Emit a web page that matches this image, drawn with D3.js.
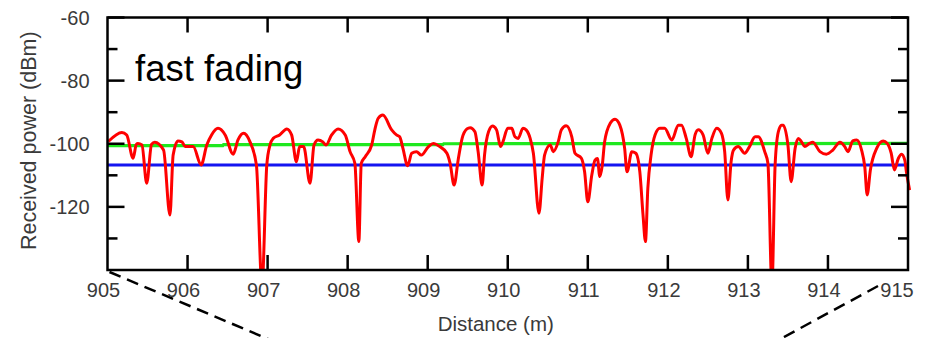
<!DOCTYPE html>
<html>
<head>
<meta charset="utf-8">
<script src="https://cdn.jsdelivr.net/npm/d3@7"></script>
<style>
  body { margin: 0; background: #fff; }
  text { font-family: "Liberation Sans", Arial, sans-serif; }
</style>
</head>
<body>
<div id="chart"></div>
<script>
// received power trace
const distance = [
  905.01, 905.18, 905.24, 905.32, 905.36, 905.38, 905.43, 905.49, 905.55, 905.59,
  905.70, 905.78, 905.82, 905.88, 905.93, 905.97, 906.07, 906.17, 906.24, 906.30,
  906.38, 906.47, 906.57, 906.63, 906.70, 906.78, 906.86, 906.93, 906.99, 907.03,
  907.07, 907.15, 907.24, 907.30, 907.36, 907.40, 907.45, 907.53, 907.58, 907.63,
  907.69, 907.73, 907.80, 907.88, 907.97, 908.03, 908.09, 908.14, 908.17, 908.22,
  908.30, 908.34, 908.38, 908.44, 908.55, 908.61, 908.65, 908.69, 908.75, 908.80,
  908.86, 908.92, 909.01, 909.07, 909.15, 909.24, 909.28, 909.33, 909.38, 909.43,
  909.49, 909.53, 909.59, 909.63, 909.68, 909.71, 909.76, 909.81, 909.86, 909.91,
  909.94, 910.00, 910.05, 910.09, 910.13, 910.19, 910.23, 910.28, 910.32, 910.39,
  910.43, 910.46, 910.53, 910.57, 910.63, 910.67, 910.73, 910.80, 910.84, 910.92,
  910.96, 911.00, 911.05, 911.09, 911.12, 911.15, 911.18, 911.21, 911.28, 911.34,
  911.40, 911.46, 911.49, 911.55, 911.60, 911.65, 911.69, 911.72, 911.75, 911.79,
  911.84, 911.90, 911.96, 912.05, 912.13, 912.17, 912.23, 912.29, 912.34, 912.38,
  912.44, 912.50, 912.55, 912.61, 912.67, 912.71, 912.75, 912.79, 912.82, 912.88,
  912.96, 913.02, 913.09, 913.13, 913.21, 913.25, 913.30, 913.34, 913.38, 913.42,
  913.44, 913.50, 913.54, 913.59, 913.63, 913.67, 913.71, 913.77, 913.81, 913.90,
  913.98, 914.06, 914.15, 914.21, 914.25, 914.31, 914.36, 914.42, 914.46, 914.49,
  914.53, 914.61, 914.69, 914.74, 914.79, 914.83, 914.88, 914.92, 914.96, 914.98,
  915.02
];
const power = [
  -99.3, -96.4, -97.2, -104.6, -100.2, -99.9, -100.4, -112.5, -100.2, -99.5,
  -102.0, -122.6, -103.6, -99.1, -99.4, -100.9, -100.9, -106.7, -100.4, -97.2,
  -95.1, -97.2, -103.3, -98.8, -96.7, -99.4, -106.7, -145, -106.7, -100.4,
  -98.3, -97.2, -95.3, -97.2, -105.7, -100.9, -100.9, -112.5, -100.4, -98.8,
  -99.4, -100.4, -97.2, -95.3, -97.2, -102.5, -106.2, -131.0, -106.2, -104.1,
  -100.4, -95.5, -92.0, -90.9, -95.6, -97.2, -97.8, -101.4, -107.0, -103.0,
  -102.5, -103.6, -100.9, -99.9, -100.9, -103.0, -106.2, -113.1, -105.2, -98.3,
  -95.3, -94.9, -96.2, -102.5, -113.1, -103.6, -96.2, -94.4, -95.6, -100.9,
  -99.4, -95.1, -95.1, -97.8, -98.3, -95.1, -95.6, -98.3, -103.0, -122.0,
  -111.0, -103.6, -100.4, -102.5, -99.4, -95.6, -94.3, -97.8, -103.0, -104.6,
  -108.9, -118.4, -109.9, -105.2, -104.7, -110.4, -107.0, -99.4, -93.5, -92.2,
  -94.1, -101.4, -108.9, -102.5, -103.0, -108.9, -122.6, -131.0, -114.1, -103.6,
  -97.2, -95.1, -95.1, -98.8, -94.1, -94.1, -98.3, -104.1, -97.2, -95.6,
  -97.2, -103.0, -98.3, -95.1, -96.7, -102.5, -117.8, -105.7, -102.0, -100.9,
  -103.0, -100.9, -97.8, -97.8, -102.5, -106.2, -145, -106.7, -96.2, -94.1,
  -94.1, -100.4, -112.0, -101.4, -98.3, -99.4, -100.9, -99.9, -99.5, -102.5,
  -103.3, -102.0, -99.5, -100.9, -102.5, -99.1, -98.8, -102.0, -107.3, -116.2,
  -108.3, -101.4, -99.1, -99.9, -103.0, -108.3, -104.6, -103.3, -105.2, -108.9,
  -114.7
];
// local mean (green) and path loss level (blue)
const meanDist = [905, 906.44, 906.45, 909.19, 909.2, 915];
const meanPower = [-100.6, -100.6, -100.3, -100.3, -100.0, -99.9];
const lossDist = [905, 915];
const lossPower = [-106.7, -106.7];

const xTicks = d3.range(905, 916);
const yMajor = [-60, -80, -100, -120];
const yMinor = [-70, -90, -110, -130];

const width = 928, height = 338;
const margin = { top: 17.5, right: 20, bottom: 68, left: 107.5 };

const svg = d3.select("#chart").append("svg")
  .attr("width", width)
  .attr("height", height);

const x = d3.scaleLinear().domain([905, 915]).range([margin.left, width - margin.right]);
const y = d3.scaleLinear().domain([-140, -60]).range([height - margin.bottom, margin.top]);

svg.append("defs").append("clipPath").attr("id", "plot")
  .append("rect")
  .attr("x", margin.left)
  .attr("y", margin.top)
  .attr("width", width - margin.right - margin.left + 4)
  .attr("height", y(-140) - margin.top);

// zoom-out dashed guides below the plot
svg.append("g")
  .attr("stroke", "#000")
  .attr("stroke-width", 2.5)
  .attr("stroke-dasharray", "12,7")
  .selectAll("line")
  .data([[x(905) + 2, y(-140) + 2, x(905) + 170, height + 5], [x(915) - 30, y(-140) + 16, x(915) - 135, height + 5]])
  .join("line")
  .attr("x1", d => d[0]).attr("y1", d => d[1])
  .attr("x2", d => d[2]).attr("y2", d => d[3]);

const lines = svg.append("g").attr("clip-path", "url(#plot)").attr("fill", "none");

lines.append("path")
  .datum(d3.zip(meanDist, meanPower))
  .attr("stroke", "#1fe81f")
  .attr("stroke-width", 3.2)
  .attr("d", d3.line().x(d => x(d[0])).y(d => y(d[1])));

lines.append("path")
  .datum(d3.zip(lossDist, lossPower))
  .attr("stroke", "#1515f0")
  .attr("stroke-width", 3)
  .attr("d", d3.line().x(d => x(d[0])).y(d => y(d[1])));

lines.append("path")
  .datum(d3.zip(distance, power))
  .attr("stroke", "#ff0000")
  .attr("stroke-width", 3)
  .attr("stroke-linejoin", "round")
  .attr("d", d3.line().curve(d3.curveMonotoneX).x(d => x(d[0])).y(d => y(d[1])));

// frame
svg.append("rect")
  .attr("x", margin.left).attr("y", margin.top)
  .attr("width", width - margin.right - margin.left)
  .attr("height", y(-140) - margin.top)
  .attr("fill", "none")
  .attr("stroke", "#000")
  .attr("stroke-width", 2.5);

// inward ticks on all four sides
const tick = svg.append("g").attr("stroke", "#000").attr("stroke-width", 2.5);
xTicks.slice(1, -1).forEach(v => {
  tick.append("line").attr("x1", x(v)).attr("x2", x(v)).attr("y1", y(-140)).attr("y2", y(-140) - 15);
  tick.append("line").attr("x1", x(v)).attr("x2", x(v)).attr("y1", y(-60)).attr("y2", y(-60) + 15);
});
yMajor.concat(yMinor).forEach(v => {
  const len = yMajor.includes(v) ? 17 : 10;
  tick.append("line").attr("x1", x(905)).attr("x2", x(905) + len).attr("y1", y(v)).attr("y2", y(v));
  tick.append("line").attr("x1", x(915)).attr("x2", x(915) - len).attr("y1", y(v)).attr("y2", y(v));
});

// tick labels
svg.append("g")
  .attr("fill", "#3a3a3a")
  .attr("font-size", 20)
  .attr("text-anchor", "middle")
  .selectAll("text")
  .data(xTicks)
  .join("text")
  .attr("x", d => x(d) - (d === 915 ? 11 : 4))
  .attr("y", y(-140) + 27)
  .text(d => d);

svg.append("g")
  .attr("fill", "#3a3a3a")
  .attr("font-size", 20)
  .attr("text-anchor", "end")
  .selectAll("text")
  .data(yMajor)
  .join("text")
  .attr("x", x(905) - 18)
  .attr("y", d => y(d) + 7)
  .text(d => d);

svg.append("text")
  .attr("x", (x(905) + x(915)) / 2 - 12)
  .attr("y", height - 7)
  .attr("text-anchor", "middle")
  .attr("font-size", 20.5)
  .attr("fill", "#3a3a3a")
  .text("Distance (m)");

svg.append("text")
  .attr("transform", `translate(36,${(y(-60) + y(-140)) / 2 - 3}) rotate(-90)`)
  .attr("text-anchor", "middle")
  .attr("font-size", 21.5)
  .attr("fill", "#3a3a3a")
  .text("Received power (dBm)");

svg.append("text")
  .attr("x", 135)
  .attr("y", 81)
  .attr("font-size", 36.5)
  .attr("fill", "#000")
  .text("fast fading");
</script>
</body>
</html>
